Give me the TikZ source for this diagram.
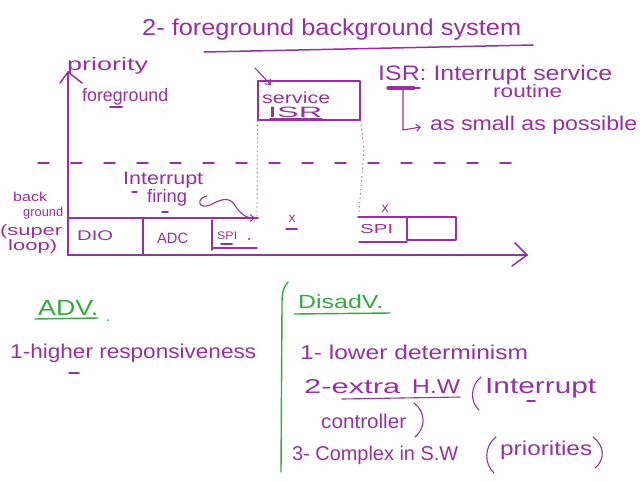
\documentclass[tikz,border=0pt]{standalone}
\usepackage{fontspec}
\setmainfont{Liberation Sans}
\usepackage{graphicx}
\usetikzlibrary{arrows.meta}
\definecolor{pur}{RGB}{152,48,162}
\definecolor{grn}{RGB}{50,170,60}
\newcommand\hwtext[3]{{\fontsize{#2}{#2}\selectfont\resizebox{#1pt}{\height}{#3}}}
\begin{document}
\begin{tikzpicture}[x=1pt,y=-1pt, line cap=round, line join=round,
 pen/.style={draw=pur, line width=1.5pt},
 thinpen/.style={draw=pur, line width=1.1pt},
 gpen/.style={draw=grn, line width=1.4pt},
 txt/.style={inner sep=0pt, anchor=base west, text=pur},
 gtxt/.style={inner sep=0pt, anchor=base west, text=grn},
 dotln/.style={draw=pur!80, line width=0.9pt, dash pattern=on 0.8pt off 3.5pt},
 barb/.style={-{Straight Barb[length=4pt,width=7pt]}}]
\useasboundingbox[fill=white] (0,0) rectangle (644,480);

% ---------- title ----------
\node[txt] (title) at (142,35) {\hwtext{379}{23}{2- foreground background system}};
\coordinate (tu1) at (204,52); \coordinate (tu2) at (533,45);
\draw[pen] (tu1) -- (tu2);

% ---------- axes ----------
\coordinate (O) at (68,255);
\coordinate (Ytop) at (68,72);
\coordinate (Xend) at (527,255);
\draw[pen, line width=2pt] (O) -- (Ytop);
\draw[pen] (60,83) -- (Ytop) -- (82,83);
\draw[pen, line width=2pt] (O) -- (Xend);
\draw[pen] (515,243) -- (Xend) -- (512,266);

\node[txt] (prio) at (67,70) {\hwtext{81}{18}{priority}};
\node[txt] (fg) at (82,101) {\hwtext{86}{18}{foreground}};
\draw[pen, line width=2pt] (110,107) -- (122,107);

% dashed separation
\coordinate (dl) at (38,163); \coordinate (dr) at (512,163);
\draw[pen, dash pattern=on 11pt off 22pt] (dl) -- (dr);

% ---------- ISR box ----------
\node[draw=pur, line width=1.3pt, minimum width=102pt, minimum height=39pt, inner sep=0pt] (isrbox) at (309,100.5) {};
\node[txt] (serv) at (262,103) {\hwtext{68}{16}{service}};
\node[txt] (isr) at (268,117) {\hwtext{54}{15}{ISR}};
\draw[thinpen] (270,119) -- (322,119);
\coordinate (sa1) at (255,68); \coordinate (sa2) at (271,85);
\draw[thinpen, barb] (sa1) -- (sa2);

% dotted verticals
\draw[dotln] (isrbox.south west) -- (257,216);
\draw[dotln] (isrbox.south east) -- (364,150) -- (359,212);

% ---------- ISR definition ----------
\node[txt] (isrdef) at (378,80) {\hwtext{234}{21}{ISR: Interrupt service}};
\node[txt] (rout) at (493,97) {\hwtext{69}{18}{routine}};
\draw[pen, line width=3.5pt] (388,88) -- (414,88);
\draw[thinpen] (414,88) -- (420,88);
\coordinate (Lt) at (403,89); \coordinate (Lc) at (403,130); \coordinate (Le) at (421,127);
\draw[thinpen, barb] (Lt) -- (Lc) -- (Le);
\node[txt] (small) at (430,130) {\hwtext{207}{20}{as small as possible}};

% ---------- interrupt firing ----------
\node[txt] (intr) at (123,184) {\hwtext{80}{18}{Interrupt}};
\node[txt] (fir) at (147,202) {\hwtext{40}{18}{firing}};
\draw[pen] (132,192) -- (137,192);
\draw[pen] (162,212) -- (168,212);
\coordinate (w0) at (207,196); \coordinate (w1) at (255,218);
\draw[thinpen, barb] (w0) .. controls (196,198) and (198,210) .. (210,205)
  .. controls (220,200) and (228,196) .. (234,204)
  .. controls (240,214) and (246,218) .. (w1);

% ---------- background label ----------
\node[txt] (bk) at (13,201) {\hwtext{34}{13}{back}};
\node[txt] (gr) at (23,216) {\hwtext{40}{13}{ground}};
\node[txt] (sup) at (0,235) {\hwtext{62}{15}{(super}};
\node[txt] (lp) at (8,250) {\hwtext{49}{15}{loop)}};

% ---------- background boxes ----------
\coordinate (b0) at (68,218); \coordinate (b1) at (258,218);
\draw[pen] (b0) -- (b1);
\draw[pen] (143,218) -- (143,255);
\draw[pen] (212,220) -- (212,250);
\draw[pen] (213,248) -- (257,248);
\node[txt] (dio) at (77,240) {\hwtext{36}{14}{DIO}};
\node[txt] (adc) at (157,243) {\hwtext{31}{15}{ADC}};
\node[txt] (spi) at (217,239) {\hwtext{20}{11}{SPI}};
\draw[pen, line width=2pt] (221,244) -- (232,244);
\fill[pur] (249,239) circle (1.1pt);

\node[text=pur, inner sep=0pt, font=\fontsize{14}{14}\selectfont] (x1) at (292,219) {x};
\draw[pen, line width=2pt] (286,229) -- (297,229);
\node[text=pur, inner sep=0pt, font=\fontsize{14}{14}\selectfont] (x2) at (385,209) {x};

\draw[pen] (358,217) -- (456,217) -- (456,240) -- (407,240);
\draw[pen] (407,217) -- (407,240);
\draw[pen] (359,242) -- (407,242);
\node[txt] (spi2) at (360,233) {\hwtext{33}{13}{SPI}};

% ---------- advantages ----------
\node[gtxt] (adv) at (38,315) {\hwtext{60}{22}{ADV.}};
\draw[gpen] (35,319) -- (98,318);
\fill[grn] (108,320) circle (1pt);
\node[txt] (adv1) at (10,358) {\hwtext{246}{20}{1-higher responsiveness}};
\draw[pen] (69,373) -- (79,373);

% divider
\coordinate (g0) at (288,282); \coordinate (g1) at (281,472);
\draw[gpen] (g0) .. controls (282,289) and (282,296) .. (282,305) -- (g1);

% ---------- disadvantages ----------
\node[gtxt] (dis) at (298,308) {\hwtext{85}{19}{DisadV.}};
\draw[gpen] (294,314) -- (390,313);
\node[txt] (d1) at (300,359) {\hwtext{228}{20}{1- lower determinism}};
\node[txt] (d2a) at (304,393) {\hwtext{96}{20}{2-extra}};
\node[txt] (d2b) at (412,393) {\hwtext{48}{20}{H.W}};
\draw[thinpen] (342,399) -- (460,397);
\draw[thinpen] (481,377) .. controls (470,386) and (470,402) .. (479,410);
\node[txt] (d2c) at (485,393) {\hwtext{111}{22}{Interrupt}};
\draw[pen] (527,401) -- (535,401);
\node[txt] (d2d) at (321,428) {\hwtext{85}{20}{controller}};
\draw[thinpen] (414,403) .. controls (426,412) and (426,428) .. (415,437);
\node[txt] (d3a) at (292,460) {\hwtext{166}{20}{3- Complex in S.W}};
\draw[thinpen] (496,437) .. controls (484,446) and (484,464) .. (494,473);
\node[txt] (d3b) at (500,455) {\hwtext{92}{20}{priorities}};
\draw[thinpen] (593,437) .. controls (605,446) and (605,460) .. (595,468);
\end{tikzpicture}
\end{document}
